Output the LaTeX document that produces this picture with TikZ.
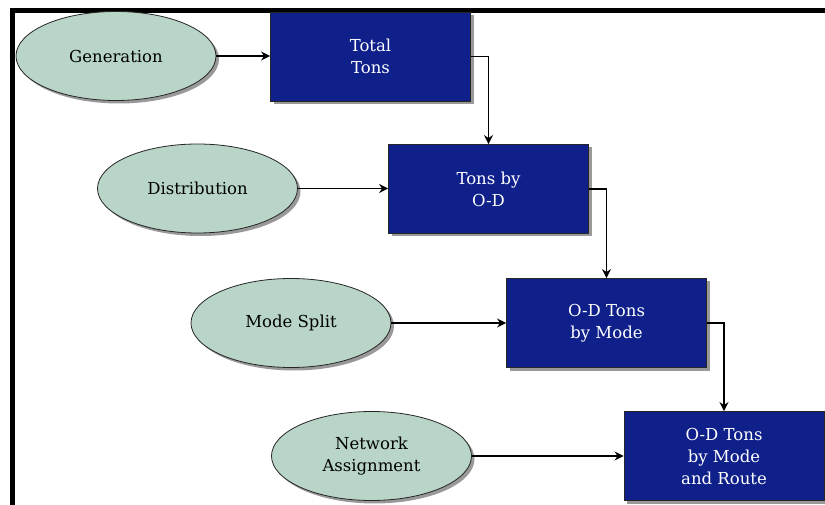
\documentclass[tikz,border=0pt]{standalone}
\usepackage{fontspec}
\setmainfont{DejaVu Serif}
\usetikzlibrary{arrows.meta,shapes.geometric,shadows}
\definecolor{boxblue}{HTML}{0F208A}
\definecolor{ovalgreen}{HTML}{B8D5C8}
\begin{document}
\begin{tikzpicture}[x=1pt,y=-1pt,
  shad/.style={drop shadow={shadow xshift=3pt,shadow yshift=-3pt,fill=black!40,opacity=1}},
  oval/.style={ellipse,draw=black!85,line width=0.8pt,fill=ovalgreen,shad,
    minimum width=200pt,minimum height=89pt,inner sep=0pt,align=center,
    font=\fontsize{16.5}{22}\selectfont},
  blk/.style={rectangle,draw=black!85,line width=0.8pt,fill=boxblue,shad,text=white,
    minimum width=200pt,minimum height=89pt,inner sep=0pt,align=center,
    font=\fontsize{16.5}{22}\selectfont},
  conn/.style={line width=1.4pt,-{Stealth[length=9pt,width=9pt]}}
]
\useasboundingbox (0,0) rectangle (825,505);
\fill[white] (0,0) rectangle (825,505);
\draw[line width=5pt] (12.5,505) -- (12.5,10.8) -- (825,10.8);

\node[oval] (gen)  at (116,56)    {Generation};
\node[blk]  (b1)   at (370.5,56.5){Total\\Tons};
\node[oval] (dist) at (197.5,188.5){Distribution};
\node[blk]  (b2)   at (488.5,189) {Tons by\\O-D};
\node[oval] (mode) at (291,323)   {Mode Split};
\node[blk]  (b3)   at (606.5,323) {O-D Tons\\by Mode};
\node[oval] (net)  at (371.5,456) {Network\\Assignment};
\node[blk]  (b4)   at (724,456)   {O-D Tons\\by Mode\\and Route};

\draw[conn] (gen.east) -- (b1.west |- gen.east);
\draw[conn] (dist.east) -- (b2.west |- dist.east);
\draw[conn] (mode.east) -- (b3.west |- mode.east);
\draw[conn] (net.east) -- (b4.west |- net.east);

\draw[conn] (b1.east) -| (b2.north);
\draw[conn] (b2.east) -| (b3.north);
\draw[conn] (b3.east) -| (b4.north);
\end{tikzpicture}
\end{document}
